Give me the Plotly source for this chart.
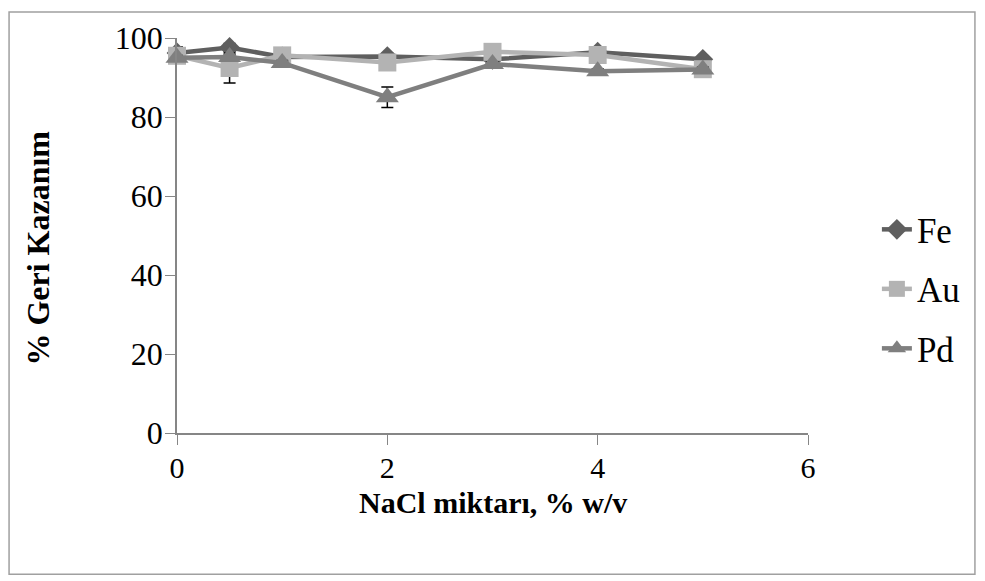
import plotly.graph_objects as go

x_vals = [0, 0.5, 1, 2, 3, 4, 5]
fe = [96.2, 97.6, 95.2, 95.3, 94.6, 96.4, 94.6]
au = [95.5, 92.4, 95.6, 93.8, 96.5, 95.7, 92.1]
pd_ = [95.0, 95.2, 93.7, 85.0, 93.4, 91.6, 92.0]
fe_err = [1.5, 1.0, 0.6, 0.8, 0.5, 0.6, 0.6]
au_err = [0.6, 3.8, 0.5, 0.6, 0.6, 0.6, 0.6]
pd_err = [0.6, 0.6, 0.6, 2.6, 0.6, 0.6, 0.6]

series = [
    ("Fe", fe, fe_err, "#5f5f5f", "diamond", 16),
    ("Au", au, au_err, "#b3b3b3", "square", 18),
    ("Pd", pd_, pd_err, "#7f7f7f", "triangle-up", 20),
]

fig = go.Figure()
for name, ys, err, col, sym, sz in series:
    fig.add_trace(go.Scatter(
        x=x_vals, y=ys, name=name, mode="lines+markers",
        line=dict(color=col, width=4.5),
        marker=dict(symbol=sym, size=sz, color=col, line=dict(width=0)),
        error_y=dict(type="data", array=err, color="black", thickness=1.5, width=6),
        cliponaxis=False, legendgroup=name,
    ))

OFF = 8  # page offset
W, H = 969, 568
L, T = 177 - OFF, 35 - OFF
PW, PH = 632, 398
R = W - L - PW
B = H - T - PH

def px_x(p):
    return (p - 177) / PW

def px_y(p):
    return (433 - p) / PH

FONT = "Liberation Serif, Times New Roman, serif"

fig.update_layout(
    width=W, height=H,
    margin=dict(l=L, r=R, t=T, b=B),
    paper_bgcolor="white", plot_bgcolor="white",
    font=dict(family=FONT, color="black", size=32),
    xaxis=dict(range=[0, 6], tickvals=[0, 2, 4, 6], showgrid=False, zeroline=False,
               showline=True, linecolor="#868686", linewidth=1.5,
               ticks="outside", ticklen=10, tickcolor="#868686",
               ticklabelstandoff=-3,
               tickfont=dict(size=30)),
    yaxis=dict(range=[0, 100], tickvals=[0, 20, 40, 60, 80, 100], showgrid=False, zeroline=False,
               showline=True, linecolor="#868686", linewidth=1.5,
               ticks="outside", ticklen=10, tickcolor="#868686",
               ticklabelstandoff=-4,
               tickfont=dict(size=32)),
    legend=dict(x=px_x(878), y=px_y(288), xanchor="left", yanchor="middle",
                font=dict(size=35), tracegroupgap=11, bgcolor="rgba(0,0,0,0)"),
    showlegend=True,
    annotations=[
        dict(text="<b>NaCl miktarı, % w/v</b>", xref="paper", yref="paper",
             x=px_x(494), y=px_y(503), xanchor="center", yanchor="middle",
             showarrow=False, font=dict(size=30)),
        dict(text="<b>% Geri Kazanım</b>", xref="paper", yref="paper",
             x=px_x(38), y=px_y(247), xanchor="center", yanchor="middle", textangle=-90,
             showarrow=False, font=dict(size=32)),
    ],
    shapes=[dict(type="rect", xref="paper", yref="paper",
                 x0=px_x(8.8), x1=px_x(976.2), y0=px_y(575.2), y1=px_y(8.8),
                 line=dict(color="#a0a0a0", width=1.5), fillcolor="rgba(0,0,0,0)", layer="below")],
)

fig.write_html("out.html")
